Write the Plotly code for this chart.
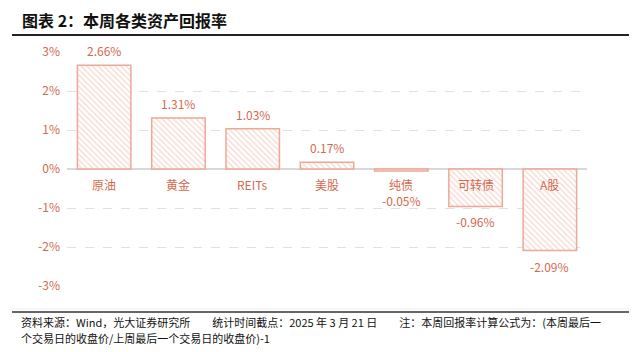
import plotly.graph_objects as go

categories = ["原油", "黄金", "REITs", "美股", "纯债", "可转债", "A股"]
returns = [2.66, 1.31, 1.03, 0.17, -0.05, -0.96, -2.09]
tick_vals = [-3, -2, -1, 0, 1, 2, 3]
tick_text = ["-3%", "-2%", "-1%", "0%", "1%", "2%", "3%"]

TEXT_C = "#d4694f"
BAR_C = "#eea898"
FONT = "Noto Sans CJK SC"

fig = go.Figure()
fig.add_trace(go.Bar(
    x=categories, y=returns, width=0.72,
    marker=dict(color="white",
                line=dict(color=BAR_C, width=1.5),
                pattern=dict(shape="\\", fgcolor="#f0ad9d", bgcolor="white",
                             size=4, solidity=0.3)),
    hoverinfo="skip",
))

annotations = []
for c, v in zip(categories, returns):
    annotations.append(dict(x=c, y=0, xref="x", yref="y", text=c, showarrow=False,
                            yanchor="top", yshift=-5,
                            font=dict(size=12, color=TEXT_C, family=FONT)))
    if v >= 0:
        annotations.append(dict(x=c, y=v, xref="x", yref="y", text=f"{v:.2f}%",
                                showarrow=False, yanchor="bottom", yshift=4,
                                font=dict(size=12, color=TEXT_C, family=FONT)))
    else:
        shift = -5 if abs(v) > 0.3 else -19
        annotations.append(dict(x=c, y=v, xref="x", yref="y", text=f"{v:.2f}%",
                                showarrow=False, yanchor="top", yshift=shift,
                                font=dict(size=12, color=TEXT_C, family=FONT)))

fig.update_layout(
    width=640, height=352,
    margin=dict(l=67, r=53, t=52, b=66),
    paper_bgcolor="white", plot_bgcolor="white",
    showlegend=False,
    font=dict(family=FONT),
    xaxis=dict(showticklabels=False, showgrid=False, zeroline=False, showline=False,
               range=[-0.5, 6.5]),
    yaxis=dict(range=[-3, 3], tickvals=tick_vals, ticktext=tick_text,
               tickfont=dict(size=12, color=TEXT_C, family=FONT),
               showgrid=True, gridcolor="#e0e0e0", griddash="dash", gridwidth=1,
               zeroline=True, zerolinecolor="#d9d9d9", zerolinewidth=1.5,
               showline=False, ticklabelstandoff=6),
)

pw, ph = 640 - 67 - 53, 352 - 52 - 66


def px_x(p):
    return (p - 67) / pw


def px_y(p):
    return (352 - 66 - p) / ph


annotations.append(dict(xref="paper", yref="paper", showarrow=False, xanchor="left", yanchor="middle",
                        x=px_x(20), y=px_y(20), text="<b>图表 2：本周各类资产回报率</b>",
                        font=dict(size=16, color="#111111", family=FONT)))
foot1 = "资料来源：Wind，光大证券研究所　　统计时间截点：2025 年 3 月 21 日　　注：本周回报率计算公式为：(本周最后一"
foot2 = "个交易日的收盘价/上周最后一个交易日的收盘价)-1"
for txt, yy in [(foot1, 322), (foot2, 338)]:
    annotations.append(dict(xref="paper", yref="paper", showarrow=False, xanchor="left", yanchor="middle",
                            x=px_x(19), y=px_y(yy), text=txt, align="left",
                            font=dict(size=11, color="#111111", family=FONT)))
fig.update_layout(annotations=annotations)

shapes = [
    dict(type="line", xref="paper", yref="paper", x0=px_x(12), x1=px_x(629), y0=px_y(35), y1=px_y(35),
         line=dict(color="#222222", width=2)),
    dict(type="line", xref="paper", yref="paper", x0=px_x(12), x1=px_x(629), y0=px_y(309), y1=px_y(309),
         line=dict(color="#eeeeee", width=1)),
    dict(type="line", xref="paper", yref="paper", x0=px_x(12), x1=px_x(629), y0=px_y(312), y1=px_y(312),
         line=dict(color="#333333", width=1.5)),
]
fig.update_layout(shapes=shapes)

fig.write_html("out.html")
